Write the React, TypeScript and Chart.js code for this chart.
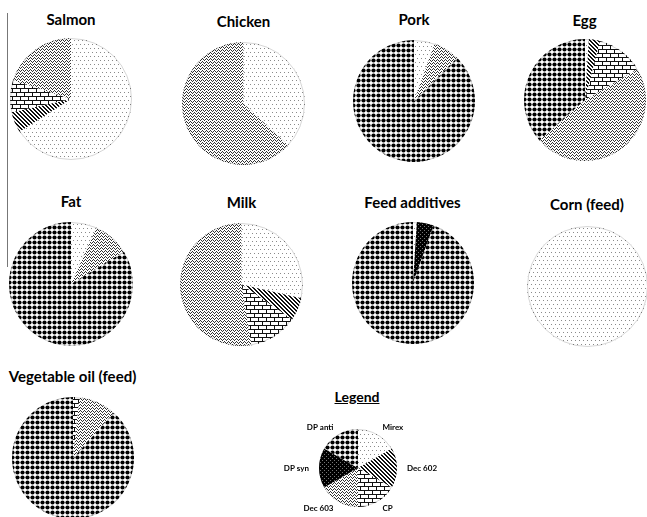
import React, { useEffect, useRef } from 'react';
import { Chart, registerables } from 'chart.js';

Chart.register(...registerables);

// ---- data ----
const seriesLabels = ['Mirex', 'Dec 602', 'CP', 'Dec 603', 'DP syn', 'DP anti'];
const panelTitles = ['Salmon', 'Chicken', 'Pork', 'Egg', 'Fat', 'Milk', 'Feed additives', 'Corn (feed)', 'Vegetable oil (feed)'];
const salmonValues = [66, 5.5, 8.5, 20, 0, 0];
const chickenValues = [37, 0, 0, 63, 0, 0];
const porkValues = [5.5, 0, 0, 7, 0, 87.5];
const eggValues = [1, 3, 12.5, 47, 0, 36.5];
const fatValues = [6.7, 0, 0, 9.6, 0, 83.7];
const milkValues = [28.6, 6, 12.8, 52.6, 0, 0];
const feedAdditivesValues = [1, 0, 0, 0, 4.5, 94.5];
const cornValues = [100, 0, 0, 0, 0, 0];
const vegetableOilValues = [0, 0, 1.7, 10, 0, 88.3];
const legendValues = [1, 1, 1, 1, 1, 1];
const legendTitle = 'Legend';

const panelValues = [
  salmonValues, chickenValues, porkValues, eggValues,
  fatValues, milkValues, feedAdditivesValues, cornValues, vegetableOilValues,
];

// ---- layout (positions only) ----
const panelLayout = [
  { cx: 71, cy: 99, r: 61, ty: 20 },
  { cx: 243.5, cy: 103, r: 61.5, ty: 22 },
  { cx: 414, cy: 101, r: 61, ty: 20 },
  { cx: 584.5, cy: 100, r: 61, ty: 21 },
  { cx: 71, cy: 284, r: 62, ty: 202 },
  { cx: 241.5, cy: 284, r: 61.5, ty: 203 },
  { cx: 412.5, cy: 283, r: 61, ty: 203 },
  { cx: 587, cy: 286, r: 60.5, ty: 205 },
  { cx: 72.5, cy: 458, r: 61, ty: 377 },
];

const TITLE_FONT = "bold 15px Lato, 'Open Sans', sans-serif";

function tile(w: number, h: number, draw: (g: CanvasRenderingContext2D) => void): CanvasPattern {
  const c = document.createElement('canvas');
  c.width = w;
  c.height = h;
  const g = c.getContext('2d')!;
  g.fillStyle = '#fff';
  g.fillRect(0, 0, w, h);
  draw(g);
  return g.createPattern(c, 'repeat')!;
}

function makePatterns(): CanvasPattern[] {
  const mirex = tile(4, 8, (g) => {
    g.fillStyle = '#8a8a8a';
    g.fillRect(0, 0, 1, 1);
    g.fillRect(2, 4, 1, 1);
  });
  const dec602 = tile(4, 4, (g) => {
    g.fillStyle = '#111';
    for (let i = 0; i < 4; i++) {
      g.fillRect(i, i, 1, 1);
      g.fillRect((i + 1) % 4, i, 1, 1);
    }
  });
  const cp = tile(8, 8, (g) => {
    g.fillStyle = '#111';
    g.fillRect(0, 0, 8, 1);
    g.fillRect(0, 4, 8, 1);
    g.fillRect(0, 1, 1, 3);
    g.fillRect(4, 5, 1, 3);
  });
  const dec603 = tile(4, 3, (g) => {
    g.fillStyle = '#333';
    g.fillRect(2, 0, 1, 1);
    g.fillRect(1, 1, 1, 1);
    g.fillRect(3, 1, 1, 1);
    g.fillRect(0, 2, 1, 1);
  });
  const dpSyn = tile(4, 4, (g) => {
    g.fillStyle = '#000';
    g.fillRect(0, 0, 4, 4);
    g.fillStyle = '#777';
    g.fillRect(0, 0, 1, 1);
    g.fillRect(2, 2, 1, 1);
  });
  const dpAnti = tile(5, 5, (g) => {
    g.fillStyle = '#000';
    g.beginPath();
    g.arc(2.5, 2.5, 2.1, 0, Math.PI * 2);
    g.fill();
  });
  return [mirex, dec602, cp, dec603, dpSyn, dpAnti];
}

const rimPlugin = {
  id: 'rim',
  afterDatasetsDraw(chart: any) {
    const meta = chart.getDatasetMeta(0);
    const arc = meta.data[0];
    if (!arc) return;
    const { x, y, outerRadius } = arc.getProps(['x', 'y', 'outerRadius'], true);
    const ctx = chart.ctx;
    ctx.save();
    ctx.strokeStyle = 'rgba(0,0,0,0.16)';
    ctx.lineWidth = 1;
    ctx.beginPath();
    ctx.arc(x, y, outerRadius - 0.5, 0, Math.PI * 2);
    ctx.stroke();
    ctx.restore();
  },
};

const outerLabelPlugin = {
  id: 'outerLabels',
  afterDatasetsDraw(chart: any) {
    const meta = chart.getDatasetMeta(0);
    const labels = chart.data.labels as string[];
    const ctx = chart.ctx;
    ctx.save();
    ctx.font = "bold 8px Lato, 'Open Sans', sans-serif";
    ctx.fillStyle = '#000';
    ctx.textBaseline = 'middle';
    meta.data.forEach((arc: any, i: number) => {
      const p = arc.getProps(['x', 'y', 'startAngle', 'endAngle', 'outerRadius'], true);
      const mid = (p.startAngle + p.endAngle) / 2;
      const c = Math.cos(mid);
      const s = Math.sin(mid);
      const lx = p.x + c * (p.outerRadius + 10);
      const ly = p.y + s * (p.outerRadius + 8);
      ctx.textAlign = c > 0.1 ? 'left' : c < -0.1 ? 'right' : 'center';
      ctx.fillText(labels[i], lx, ly);
    });
    ctx.restore();
  },
};

type PieProps = {
  values: number[];
  left: number;
  top: number;
  width: number;
  height: number;
  padding: { left: number; right: number; top: number; bottom: number };
  withLabels?: boolean;
};

function PieCanvas({ values, left, top, width, height, padding, withLabels }: PieProps) {
  const ref = useRef<HTMLCanvasElement | null>(null);
  useEffect(() => {
    const canvas = ref.current!;
    const patterns = makePatterns();
    const chart = new Chart(canvas, {
      type: 'pie',
      data: {
        labels: seriesLabels,
        datasets: [
          {
            data: values,
            backgroundColor: patterns as any,
            borderWidth: 0,
          },
        ],
      },
      options: {
        responsive: false,
        animation: false,
        devicePixelRatio: 1,
        events: [],
        layout: { padding },
        plugins: {
          legend: { display: false },
          tooltip: { enabled: false },
          title: { display: false },
        },
      },
      plugins: withLabels ? [rimPlugin, outerLabelPlugin] : [rimPlugin],
    } as any);
    return () => chart.destroy();
  }, []);
  return (
    <canvas
      ref={ref}
      width={width}
      height={height}
      style={{ position: 'absolute', left, top, width, height }}
    />
  );
}

export default function App() {
  const legendCx = 358;
  const legendCy = 468;
  const legendR = 39;
  const lLeft = 260;
  const lTop = 410;
  const lW = 196;
  const lH = 110;
  return (
    <div
      style={{
        position: 'fixed',
        left: 0,
        top: 0,
        width: 647,
        height: 517,
        background: '#fff',
        overflow: 'hidden',
      }}
    >
      <div style={{ position: 'absolute', left: 7, top: 13, width: 1.3, height: 254, background: '#777' }} />
      {panelLayout.map((p, i) => (
        <React.Fragment key={i}>
          <div
            style={{
              position: 'absolute',
              left: p.cx,
              top: p.ty - 10,
              height: 20,
              lineHeight: '20px',
              transform: 'translateX(-50%)',
              whiteSpace: 'nowrap',
              font: TITLE_FONT,
              color: '#000',
            }}
          >
            {panelTitles[i]}
          </div>
          <PieCanvas
            values={panelValues[i]}
            left={Math.round(p.cx - p.r - 2)}
            top={Math.round(p.cy - p.r - 2)}
            width={Math.round(2 * p.r + 4)}
            height={Math.round(2 * p.r + 4)}
            padding={{ left: 2, right: 2, top: 2, bottom: 2 }}
          />
        </React.Fragment>
      ))}
      <div
        style={{
          position: 'absolute',
          left: 357,
          top: 388,
          height: 20,
          lineHeight: '20px',
          transform: 'translateX(-50%)',
          whiteSpace: 'nowrap',
          font: "bold 14px Lato, 'Open Sans', sans-serif",
          textDecoration: 'underline',
          color: '#000',
        }}
      >
        {legendTitle}
      </div>
      <PieCanvas
        values={legendValues}
        left={lLeft}
        top={lTop}
        width={lW}
        height={lH}
        padding={{
          left: legendCx - legendR - lLeft,
          right: lLeft + lW - (legendCx + legendR),
          top: legendCy - legendR - lTop,
          bottom: lTop + lH - (legendCy + legendR),
        }}
        withLabels
      />
    </div>
  );
}
